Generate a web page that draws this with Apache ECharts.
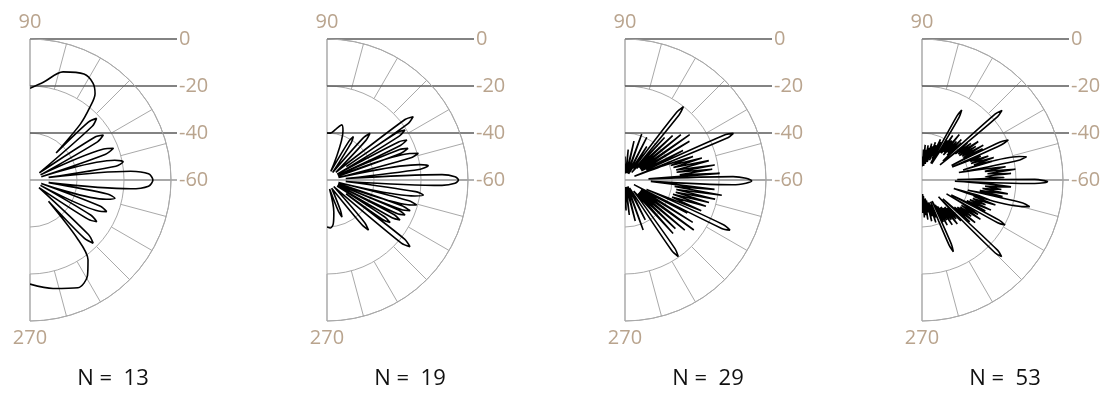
<!DOCTYPE html>
<html>
<head>
<meta charset="utf-8">
<title>Array patterns</title>
<script src="https://cdn.jsdelivr.net/npm/echarts@6/dist/echarts.min.js"></script>
<style>
  html, body { margin: 0; padding: 0; background: #fff; }
  #chart { width: 1108px; height: 394px; }
</style>
</head>
<body>
<div id="chart"></div>
<script>
// number of elements shown under each plot
var elementCounts = [13, 19, 29, 53]
// text for the two ends of the angle axis
var angleTickText = { '-90': '270', '90': '90' }

// traces as [angle deg, level dB]
var patternN13 = [
  [-90, -15.7], [-78, -12.8], [-66, -9.8], [-59, -12.5], [-54, -18], [-51, -28], [-49, -48],
  [-47, -26], [-45, -22], [-43, -26], [-40, -55],
  [-34, -30], [-32, -26.5], [-30, -30], [-27, -55],
  [-24.4, -28], [-22.4, -24.7], [-20.4, -28], [-17, -55],
  [-14.2, -26.5], [-12.2, -23], [-10.2, -26.5], [-8, -52],
  [-5, -17], [-3, -9.5], [0, -7.7], [3, -9.5], [5, -17], [8, -52],
  [9.1, -23], [11.1, -19.6], [13.1, -23], [16, -55],
  [18.8, -26], [20.8, -22], [22.8, -26], [26, -55],
  [29.5, -27], [31.5, -23.4], [33.5, -27], [37, -55],
  [40.8, -25], [42.8, -21.4], [44.8, -25], [46, -44],
  [48, -28], [50.5, -20], [53, -14], [57, -10.8], [63, -9.4], [73, -11.9], [82, -17.9], [90, -21]
]

var patternN19 = [
  [-90, -40], [-86, -39.5], [-82, -41], [-78, -46], [-74, -56],
  [-70, -46], [-68, -43], [-66, -46], [-60, -56],
  [-52, -36], [-50.4, -32.3], [-48.5, -36], [-44, -56],
  [-40.3, -18.5], [-38.8, -14.7], [-37.3, -18.5], [-35.8, -50],
  [-35.4, -31], [-34, -27.6], [-32.6, -31], [-31, -55],
  [-30.1, -28], [-28.7, -24.6], [-27.3, -28], [-26.4, -55],
  [-25.6, -27], [-24.2, -23.6], [-22.8, -27], [-22.2, -55],
  [-21.7, -26], [-20.3, -22.3], [-18.9, -26], [-18, -55],
  [-17, -24], [-15.6, -20.4], [-14.2, -24], [-12.3, -55],
  [-10.3, -22], [-8.9, -18.5], [-7.5, -22], [-4.5, -52],
  [-2.7, -11], [-1.5, -5.5], [0, -4.1], [1.5, -5.5], [2.7, -11], [4.5, -52],
  [6.6, -20], [8, -16.5], [9.4, -20], [12, -55],
  [14.9, -23], [16.3, -19.5], [17.7, -23], [19, -55],
  [19.9, -26.5], [21.3, -23], [22.7, -26.5], [24, -55],
  [25.2, -25.5], [26.6, -22], [28, -25.5], [30, -55],
  [31.3, -24], [32.7, -20.6], [34.1, -24], [34.8, -50],
  [34.8, -18], [36.3, -14.5], [37.8, -18], [41, -55],
  [45.5, -36.5], [47.4, -33], [49.3, -36.5], [53, -56],
  [57, -41], [58.7, -38.4], [60.5, -41], [66, -56],
  [72, -38], [75, -35.7], [80, -38], [86, -40], [90, -40]
]

var patternN29 = [
  [-90, -52], [-88, -47], [-86, -57], [-83, -45], [-80, -57], [-76, -42], [-73, -57],
  [-70, -37.4], [-67, -57], [-63, -41], [-60, -56],
  [-56.5, -24], [-55.2, -20.3], [-53.9, -24], [-52, -54],
  [-48, -29.4], [-46, -52], [-44, -30.2], [-42, -52], [-40, -26.8], [-38, -52],
  [-36, -23.8], [-34, -52], [-32, -26], [-30, -52], [-28, -30], [-27, -55.7],
  [-26.6, -14], [-25.5, -10.5], [-24.4, -14], [-23.5, -50],
  [-22, -25], [-20, -38.7], [-18, -23.8], [-16.5, -38.7], [-15, -23], [-13.5, -37.8],
  [-12, -20.8], [-10.5, -37.8], [-9, -18.3], [-7.5, -38.7], [-6, -21.7], [-4.5, -43], [-3, -49],
  [-2.5, -14], [-1.5, -8.5], [-0.5, -6.1], [0.8, -8.5], [1.8, -14], [2.8, -50],
  [4, -19.6], [5.5, -36.6], [7, -22.6], [8.5, -37.8], [9.5, -21.3], [11, -37.8],
  [13, -23.4], [14.5, -38.7], [16, -26], [17.5, -39.6], [19, -29.4], [20.5, -45], [21.5, -55.7],
  [22.3, -13], [23.3, -9.8], [24.3, -13], [25.2, -50],
  [27, -32.3], [29, -52], [31, -28], [33, -52], [35, -26.4], [37, -52], [39, -29.4],
  [41, -52], [43, -32.3], [45, -53], [47, -35.3], [48.5, -55.7],
  [50.3, -24], [51.5, -20.1], [52.7, -24], [54, -54],
  [57, -43], [60, -57], [63, -39.6], [66, -57], [70, -39.2], [73, -57],
  [77, -43], [80, -57], [84, -47], [87, -57], [90, -50]
]

var patternN53 = [
  [-90, -52], [-88.8, -46], [-87.6, -54], [-86.4, -44], [-85.2, -53], [-84, -45], [-82.8, -52],
  [-81.6, -43], [-80.4, -52], [-79.2, -46], [-78, -51], [-76.8, -42], [-75.6, -50], [-74.4, -44],
  [-73.2, -50], [-72, -41], [-70.8, -49], [-69.6, -43], [-68.4, -50],
  [-67.4, -30], [-66.4, -26.7], [-65.4, -30], [-64.4, -50],
  [-63.2, -40], [-62, -48], [-60.8, -38], [-59.6, -47], [-58.4, -40], [-57.2, -46], [-56, -37],
  [-54.8, -46], [-53.6, -39], [-52.4, -45], [-51.2, -36], [-50, -45], [-48.8, -38], [-47.6, -44],
  [-46.4, -36], [-45.4, -50],
  [-44.9, -16], [-43.9, -13], [-42.9, -16], [-42.3, -48],
  [-41.2, -33], [-40, -42], [-38.8, -31], [-37.6, -41], [-36.4, -34], [-35.2, -40], [-34, -30],
  [-32.8, -40], [-31.6, -32], [-30.4, -39], [-29.6, -48],
  [-29.5, -23], [-28.5, -19.8], [-27.5, -23], [-27.1, -46],
  [-26, -30], [-24.8, -39], [-23.6, -28], [-22.4, -38], [-21.2, -31], [-20, -37], [-18.8, -27],
  [-17.6, -37], [-16.4, -30], [-15.2, -36], [-14.9, -46],
  [-14.9, -16], [-13.9, -12.8], [-12.9, -16], [-12.7, -40],
  [-11.6, -25], [-10.4, -35], [-9.2, -23], [-8, -34], [-6.8, -26], [-5.6, -33], [-4.4, -22],
  [-3.2, -34], [-2.2, -46],
  [-1.8, -12], [-1.3, -8], [-0.8, -6.6], [-0.3, -8], [0.3, -12], [0.8, -45],
  [1.8, -25], [3, -33], [4.2, -22], [5.4, -32], [6.6, -20], [7.8, -33], [9, -24], [10.2, -34],
  [11.4, -44],
  [11.6, -17.5], [12.6, -14.5], [13.6, -17.5], [13.8, -42],
  [15, -29], [16.2, -37], [17.4, -28], [18.6, -38], [19.8, -30], [21, -38], [22.2, -33], [23.4, -46],
  [23.9, -23], [24.9, -19.5], [25.9, -23], [26.1, -46],
  [27.2, -31], [28.4, -40], [29.6, -30], [30.8, -40], [32, -33], [33.2, -41], [34.4, -31],
  [35.6, -41], [36.8, -34], [38, -42], [39.2, -35], [40, -50],
  [40, -18], [41, -14.9], [42, -18], [42.3, -48],
  [43.4, -37], [44.6, -45], [45.8, -36], [47, -44], [48.2, -38], [49.4, -46], [50.6, -35],
  [51.8, -45], [53, -39], [54.2, -46], [55.4, -37], [56.6, -46], [57.8, -40], [59.2, -52],
  [59.4, -29], [60.4, -25.8], [61.4, -29], [62, -52],
  [63.2, -42], [64.4, -50], [65.6, -41], [66.8, -49], [68, -44], [69.2, -51], [70.4, -43],
  [71.6, -50], [72.8, -45], [74, -52], [75.2, -44], [76.4, -51], [77.6, -46], [78.8, -53],
  [80, -45], [81.2, -52], [82.4, -47], [83.6, -54], [84.8, -45], [86, -53], [87.2, -47],
  [88.4, -54], [90, -50]
]

var patterns = [patternN13, patternN19, patternN29, patternN53]

// layout
var panelX = [30, 327, 625, 922]
var centerY = 180
var outerR = 141
var spokeInnerR = 94
var gridColor = '#a9a9a9'
var scaleColor = '#5a5a5a'
var tickColor = '#b9a48e'
var fontName = '"Open Sans", "Noto Sans", sans-serif'

var chart = echarts.init(document.getElementById('chart'), null, { renderer: 'canvas' })

var polar = [], angleAxis = [], radiusAxis = [], grid = [], xAxis = [], yAxis = [], series = [], graphic = []

patterns.forEach(function (trace, i) {
  var cx = panelX[i]
  var main = i * 2
  var ring = i * 2 + 1

  polar.push({ center: [cx, centerY], radius: outerR })
  polar.push({ center: [cx, centerY], radius: [spokeInnerR, outerR] })

  // half circle, vertical axis and the 90 / 270 texts
  angleAxis.push({
    polarIndex: main,
    type: 'value',
    min: -90,
    max: 90,
    interval: 180,
    startAngle: -90,
    endAngle: 90,
    clockwise: false,
    axisLine: { lineStyle: { color: gridColor, width: 1 } },
    axisTick: { show: false },
    splitLine: { show: true, lineStyle: { color: gridColor, width: 1 } },
    axisLabel: {
      margin: 7,
      color: tickColor,
      fontSize: 20,
      fontFamily: fontName,
      formatter: function (v) { return angleTickText[String(v)] }
    }
  })
  // spokes every 15 degrees, only in the outer ring
  angleAxis.push({
    polarIndex: ring,
    type: 'value',
    min: -90,
    max: 90,
    interval: 15,
    startAngle: -90,
    endAngle: 90,
    clockwise: false,
    axisLine: { show: false },
    axisTick: { show: false },
    axisLabel: { show: false },
    splitLine: { show: true, lineStyle: { color: gridColor, width: 1 } }
  })

  radiusAxis.push({
    polarIndex: main,
    type: 'value',
    min: -60,
    max: 0,
    interval: 20,
    axisLine: { show: false },
    axisTick: { show: false },
    axisLabel: { show: false },
    splitLine: { show: true, lineStyle: { color: gridColor, width: 1 } }
  })
  radiusAxis.push({
    polarIndex: ring,
    type: 'value',
    min: -60,
    max: 0,
    show: false
  })

  // horizontal dB scale on the right
  grid.push({ left: cx, top: centerY - outerR, width: 147, height: outerR })
  xAxis.push({ gridIndex: i, type: 'value', min: 0, max: 1, show: false })
  yAxis.push({
    gridIndex: i,
    type: 'value',
    min: -60,
    max: 0,
    interval: 20,
    position: 'right',
    axisLine: { show: false },
    axisTick: { show: false },
    splitLine: { lineStyle: { color: ['#9a9a9a', scaleColor, scaleColor, scaleColor], width: 1.5 } },
    axisLabel: { margin: 2, color: tickColor, fontSize: 20, fontFamily: fontName }
  })

  series.push({
    type: 'line',
    coordinateSystem: 'polar',
    polarIndex: main,
    data: trace.map(function (p) { return [p[1], p[0]] }),
    symbol: 'none',
    smooth: 0.3,
    clip: false,
    lineStyle: { color: '#000', width: 1.6 },
    z: 5
  })

  graphic.push({
    type: 'text',
    x: cx + 83,
    y: 379,
    style: {
      text: 'N =  ' + elementCounts[i],
      fill: '#111',
      font: '22px ' + fontName,
      align: 'center',
      verticalAlign: 'middle'
    }
  })
})

chart.setOption({
  animation: false,
  backgroundColor: '#fff',
  polar: polar,
  angleAxis: angleAxis,
  radiusAxis: radiusAxis,
  grid: grid,
  xAxis: xAxis,
  yAxis: yAxis,
  series: series,
  graphic: graphic
})
</script>
</body>
</html>
